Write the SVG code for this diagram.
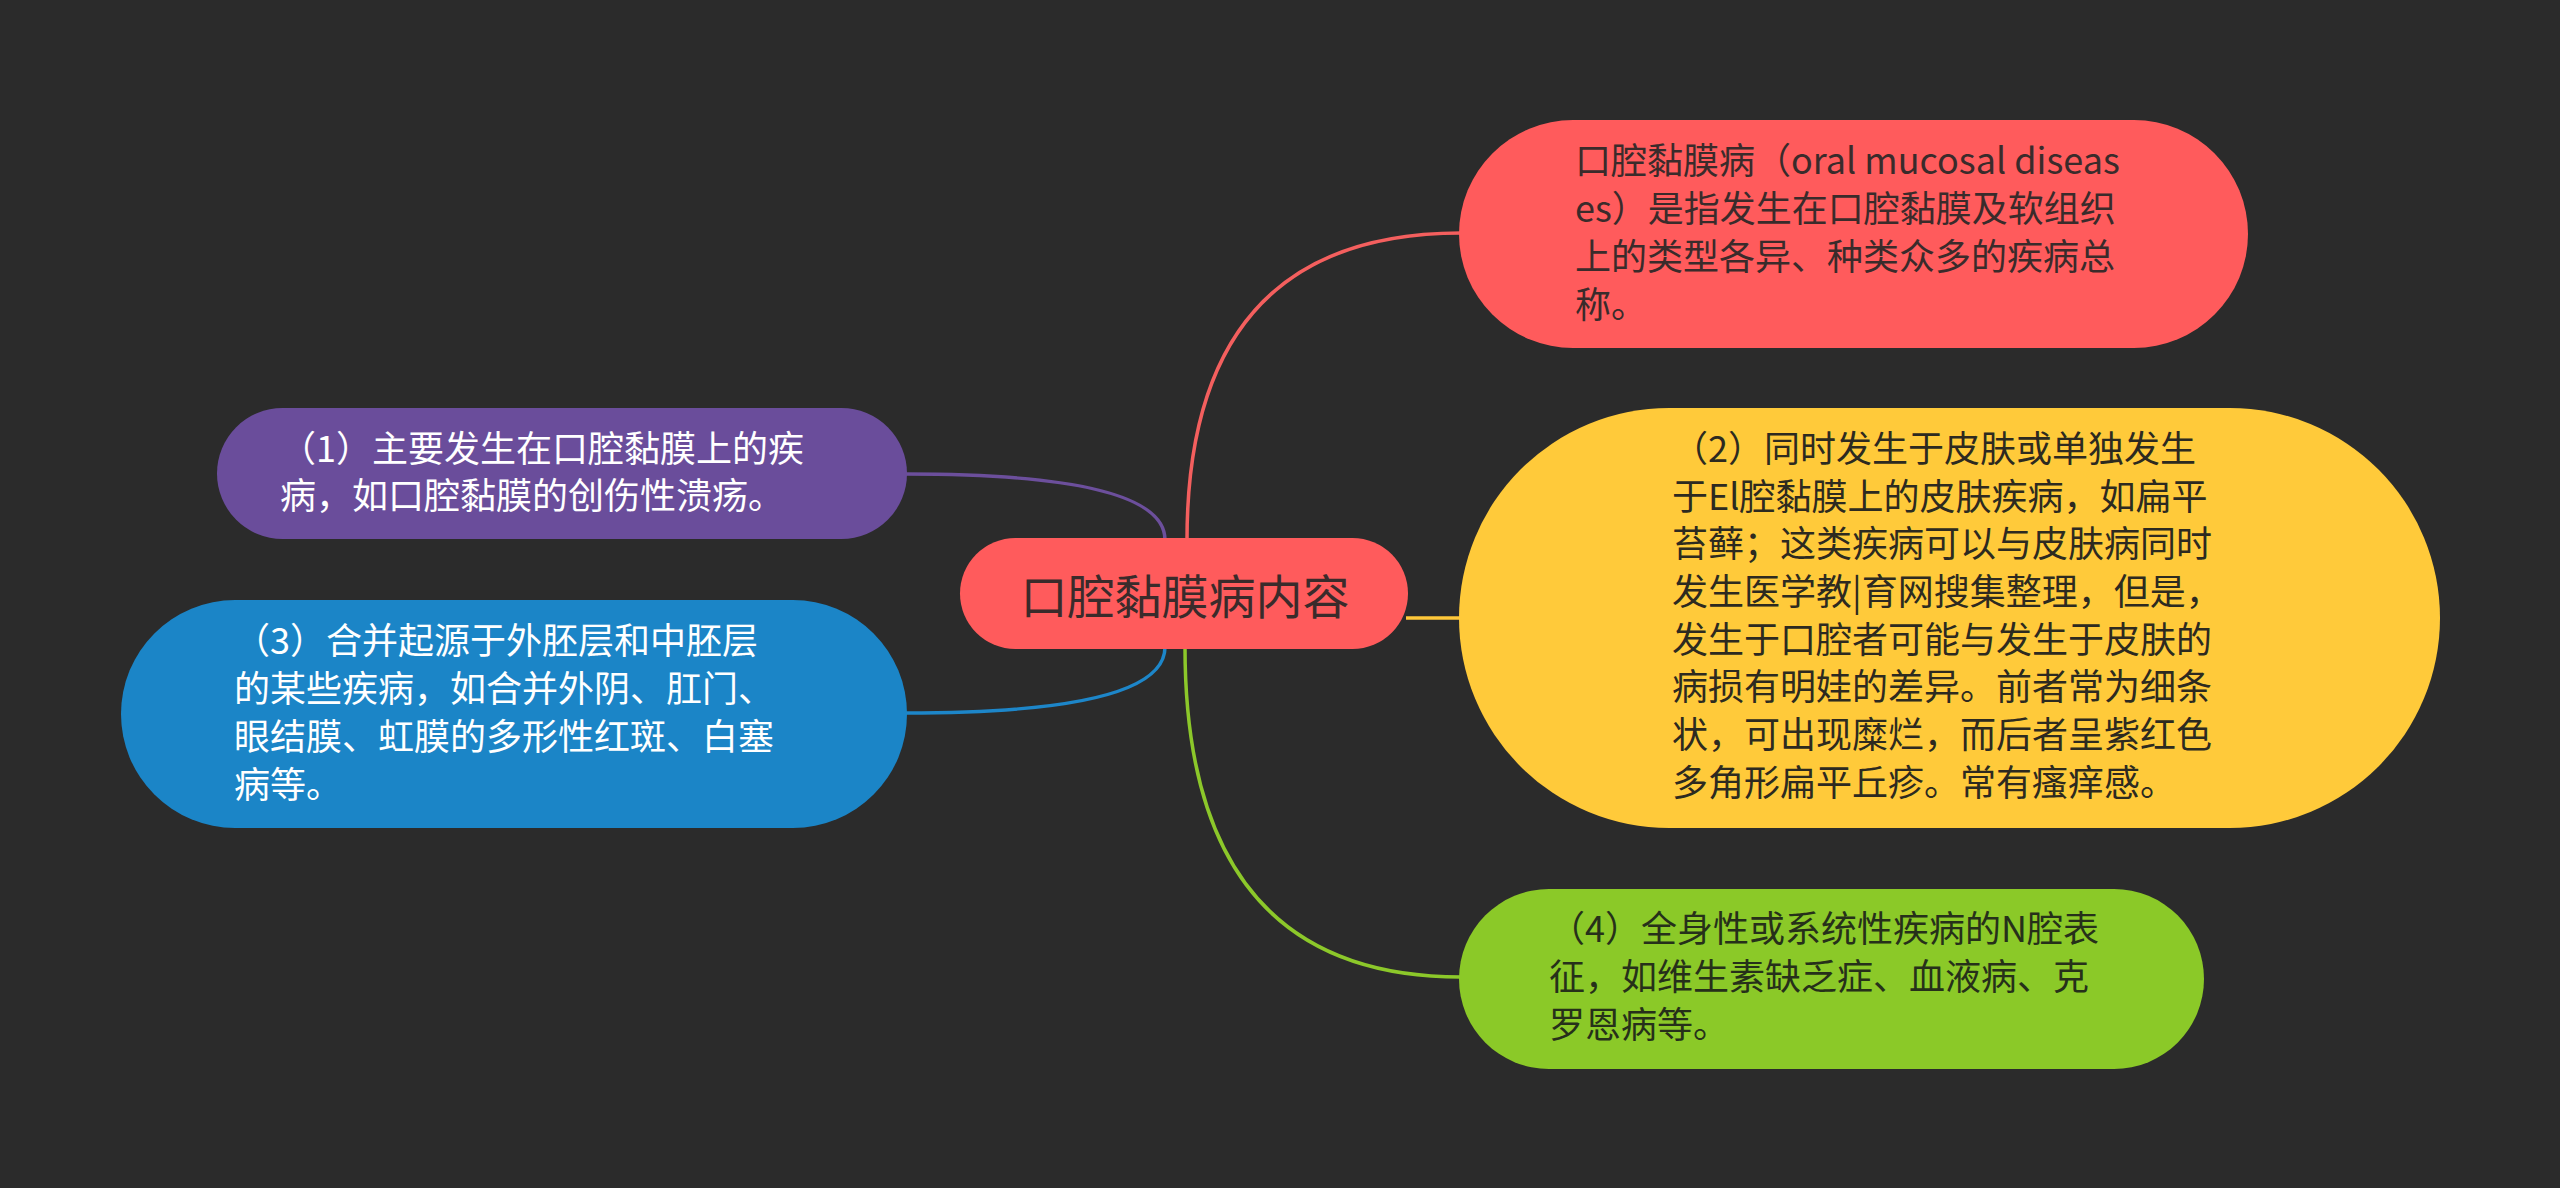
<svg xmlns="http://www.w3.org/2000/svg" width="2560" height="1188" viewBox="0 0 2560 1188">
<style>
text{font-family:"Noto Sans CJK SC","Noto Sans",sans-serif;font-size:36px}
.dark{fill:#3a2b2b}
.light{fill:#ffffff}
.conn{fill:none;stroke-width:3.5}
</style>
<rect width="2560" height="1188" fill="#2b2b2b"/>
<g id="connectors">
<path class="conn" stroke="#f45f5e" d="M1187 540 Q1187 233 1461 233"/>
<path class="conn" stroke="#ffc83a" d="M1406 618 L1461 618"/>
<path class="conn" stroke="#8cc82a" d="M1185 647 Q1185 977 1461 977"/>
<path class="conn" stroke="#6c4f9c" d="M1165 540 Q1165 474 906 474"/>
<path class="conn" stroke="#1d86c9" d="M1165 647 Q1165 713 906 713"/>
</g>
<g id="center">
<rect x="960" y="538" width="448" height="111" rx="55.5" fill="#ff5b5c"/>
<text x="1185" y="614" text-anchor="middle" style="font-size:47px" class="dark">口腔黏膜病内容</text>
</g>
<g id="node-definition">
<rect x="1459" y="120" width="789" height="228" rx="114" fill="#ff5b5c"/>
<text class="dark"><tspan x="1575" y="174">口腔黏膜病（oral mucosal diseas</tspan><tspan x="1575" y="222">es）是指发生在口腔黏膜及软组织</tspan><tspan x="1575" y="270">上的类型各异、种类众多的疾病总</tspan><tspan x="1575" y="318">称。</tspan></text>
</g>
<g id="node-2">
<rect x="1459" y="408" width="981" height="420" rx="210" fill="#ffca3a"/>
<text fill="#2d2a20"><tspan x="1672" y="462">（2）同时发生于皮肤或单独发生</tspan><tspan x="1672" y="509.6">于El腔黏膜上的皮肤疾病，如扁平</tspan><tspan x="1672" y="557.3">苔藓；这类疾病可以与皮肤病同时</tspan><tspan x="1672" y="605">发生医学教|育网搜集整理，但是，</tspan><tspan x="1672" y="652.6">发生于口腔者可能与发生于皮肤的</tspan><tspan x="1672" y="700.3">病损有明娃的差异。前者常为细条</tspan><tspan x="1672" y="748">状，可出现糜烂，而后者呈紫红色</tspan><tspan x="1672" y="795.6">多角形扁平丘疹。常有瘙痒感。</tspan></text>
</g>
<g id="node-4">
<rect x="1459" y="889" width="745" height="180" rx="90" fill="#8bc928"/>
<text fill="#26301a"><tspan x="1549" y="942">（4）全身性或系统性疾病的N腔表</tspan><tspan x="1549" y="990">征，如维生素缺乏症、血液病、克</tspan><tspan x="1549" y="1038">罗恩病等。</tspan></text>
</g>
<g id="node-1">
<rect x="217" y="408" width="690" height="131" rx="65.5" fill="#6a4d9b"/>
<text class="light"><tspan x="280" y="462">（1）主要发生在口腔黏膜上的疾</tspan><tspan x="280" y="509">病，如口腔黏膜的创伤性溃疡。</tspan></text>
</g>
<g id="node-3">
<rect x="121" y="600" width="786" height="228" rx="114" fill="#1b85c7"/>
<text class="light"><tspan x="234" y="654">（3）合并起源于外胚层和中胚层</tspan><tspan x="234" y="702">的某些疾病，如合并外阴、肛门、</tspan><tspan x="234" y="750">眼结膜、虹膜的多形性红斑、白塞</tspan><tspan x="234" y="798">病等。</tspan></text>
</g>
</svg>
